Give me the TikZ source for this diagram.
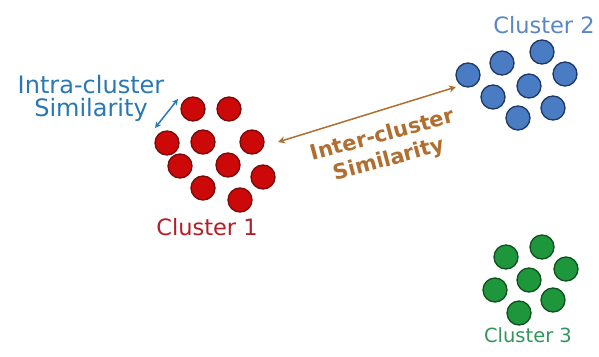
\documentclass[tikz,border=0pt]{standalone}
\usepackage{fontspec}
\setmainfont{DejaVu Sans}
\usetikzlibrary{arrows.meta}
\definecolor{redfill}{RGB}{204,8,8}
\definecolor{redline}{RGB}{120,10,10}
\definecolor{bluefill}{RGB}{74,124,196}
\definecolor{blueline}{RGB}{30,55,100}
\definecolor{greenfill}{RGB}{30,150,60}
\definecolor{greenline}{RGB}{15,80,30}
\definecolor{intracol}{RGB}{40,120,180}
\definecolor{intercol}{RGB}{176,110,48}
\definecolor{c1col}{RGB}{180,30,40}
\definecolor{c2col}{RGB}{90,135,195}
\definecolor{c3col}{RGB}{50,150,90}
\tikzset{
  dot/.style={circle, minimum size=24pt, inner sep=0pt, line width=1.3pt},
  rdot/.style={dot, fill=redfill, draw=redline},
  bdot/.style={dot, fill=bluefill, draw=blueline},
  gdot/.style={dot, fill=greenfill, draw=greenline},
  lbl/.style={inner sep=0pt, align=center},
}
\begin{document}
\begin{tikzpicture}[x=1pt,y=-1pt]
\useasboundingbox[fill=white] (0,0) rectangle (599,356);
% cluster 1
\node[rdot] (r1) at (193,109) {};
\node[rdot] (r2) at (229,109) {};
\node[rdot] (r3) at (167,143) {};
\node[rdot] (r4) at (203,142) {};
\node[rdot] (r5) at (252,142) {};
\node[rdot] (r6) at (180,166) {};
\node[rdot] (r7) at (228,165) {};
\node[rdot] (r8) at (263,177) {};
\node[rdot] (r9) at (203,188) {};
\node[rdot] (r10) at (240,200) {};
% cluster 2
\node[bdot] (b1) at (542,52) {};
\node[bdot] (b2) at (502,63) {};
\node[bdot] (b3) at (468,75) {};
\node[bdot] (b4) at (565,74) {};
\node[bdot] (b5) at (529,86) {};
\node[bdot] (b6) at (493,97) {};
\node[bdot] (b7) at (553,108) {};
\node[bdot] (b8) at (518,118) {};
% cluster 3
\node[gdot] (g1) at (542,247) {};
\node[gdot] (g2) at (506,257) {};
\node[gdot] (g3) at (566,269) {};
\node[gdot] (g4) at (529,280) {};
\node[gdot] (g5) at (495,290) {};
\node[gdot] (g6) at (553,300) {};
\node[gdot] (g7) at (519,313) {};
% labels
\node[lbl, text=intracol, font=\fontsize{24}{23}\selectfont] (intra) at (91,98) {Intra-cluster\\Similarity};
\node[lbl, text=c1col, font=\fontsize{22.5}{26}\selectfont] (c1) at (207,227) {Cluster 1};
\node[lbl, text=c2col, font=\fontsize{22.5}{26}\selectfont] (c2) at (544,25) {Cluster 2};
\node[lbl, text=c3col, font=\fontsize{19.5}{24}\selectfont] (c3) at (528,335) {Cluster 3};
\node[lbl, text=intercol, font=\fontsize{21}{25}\selectfont\bfseries, rotate=15] (inter) at (386,148) {Inter-cluster\\Similarity};
% arrows
\coordinate (ia) at (155,128);
\coordinate (ib) at (178,99);
\draw[intracol, line width=1.5pt, {Stealth[length=6pt,width=6pt]}-{Stealth[length=6pt,width=6pt]}] (ia) -- (ib);
\coordinate (ea) at (278,142);
\coordinate (eb) at (456,87);
\draw[intercol, line width=1.5pt, {Stealth[length=7pt,width=7pt]}-{Stealth[length=7pt,width=7pt]}] (ea) -- (eb);
\end{tikzpicture}
\end{document}
